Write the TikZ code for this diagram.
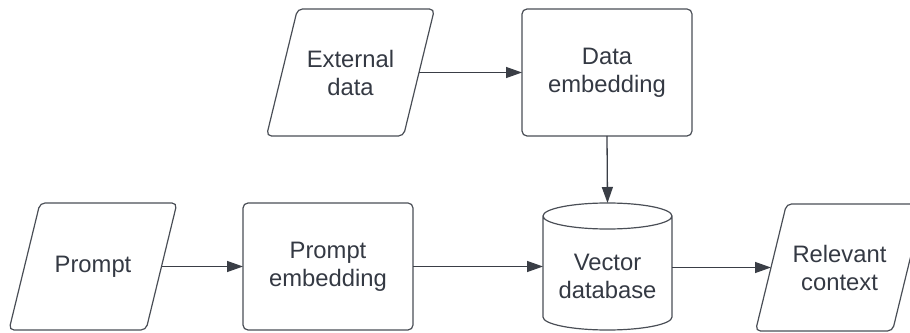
\documentclass[tikz,border=0pt]{standalone}
\usepackage{fontspec}
\setmainfont{Liberation Sans}
\usetikzlibrary{arrows.meta}

\definecolor{edgegray}{RGB}{74,78,86}
\definecolor{arrowgray}{RGB}{58,62,70}
\definecolor{textgray}{RGB}{52,57,67}

\tikzset{
  x=1pt, y=1pt,
  label/.style={draw=none, inner sep=0pt, outer sep=0pt, align=center,
    text=textgray, font=\fontsize{23.8}{28}\selectfont},
  procbox/.style={label, draw=edgegray, line width=1.2pt, rounded corners=5pt,
    minimum width=170pt, minimum height=127pt},
  dataslot/.style={label, minimum width=137pt, minimum height=127pt},
  outline/.style={draw=edgegray, line width=1.2pt, rounded corners=5pt},
  flow/.style={draw=arrowgray, line width=1.3pt,
    -{Triangle[length=16pt, width=11pt]}},
}

\begin{document}
\begin{tikzpicture}
\useasboundingbox (0,0) rectangle (910,332);

% input / output blocks (parallelograms)
\node[dataslot] (ext)    at (350.5,259.5) {External\\data};
\node[dataslot] (prompt) at (93,65.5)     {Prompt};
\node[dataslot] (rel)    at (839.5,64.5)  {Relevant\\context};
\foreach \n in {ext,prompt,rel}{
  \draw[outline] ([xshift=15.5pt]\n.north west) -- ([xshift=15.5pt]\n.north east)
    -- ([xshift=-15.5pt]\n.south east) -- ([xshift=-15.5pt]\n.south west) -- cycle;
}

% processing steps
\node[procbox] (demb) at (607,259.5) {Data\\embedding};
\node[procbox] (pemb) at (328,65.5)  {Prompt\\embedding};

% vector store (cylinder)
\node[label, minimum width=129pt, minimum height=127pt] (vdb) at (607.5,65.5) {};
\node[label] (vdbtext) at ([yshift=-10pt]vdb.center) {Vector\\database};
\draw[outline, rounded corners=0pt]
  ([yshift=-13pt]vdb.north west) -- ([yshift=13pt]vdb.south west)
  arc[start angle=180, end angle=360, x radius=64.5pt, y radius=13pt]
  -- ([yshift=-13pt]vdb.north east)
  arc[start angle=0, end angle=180, x radius=64.5pt, y radius=13pt]
  arc[start angle=180, end angle=360, x radius=64.5pt, y radius=13pt];

% data flow
\draw[flow] (ext.east) -- (demb.west);
\draw[flow] (demb.south) -- (vdb.north);
\draw[flow] (prompt.east) -- (pemb.west);
\draw[flow] (pemb.east) -- (pemb.east -| vdb.west);
\draw[flow] (vdb.east |- rel.west) -- (rel.west);
\end{tikzpicture}
\end{document}
